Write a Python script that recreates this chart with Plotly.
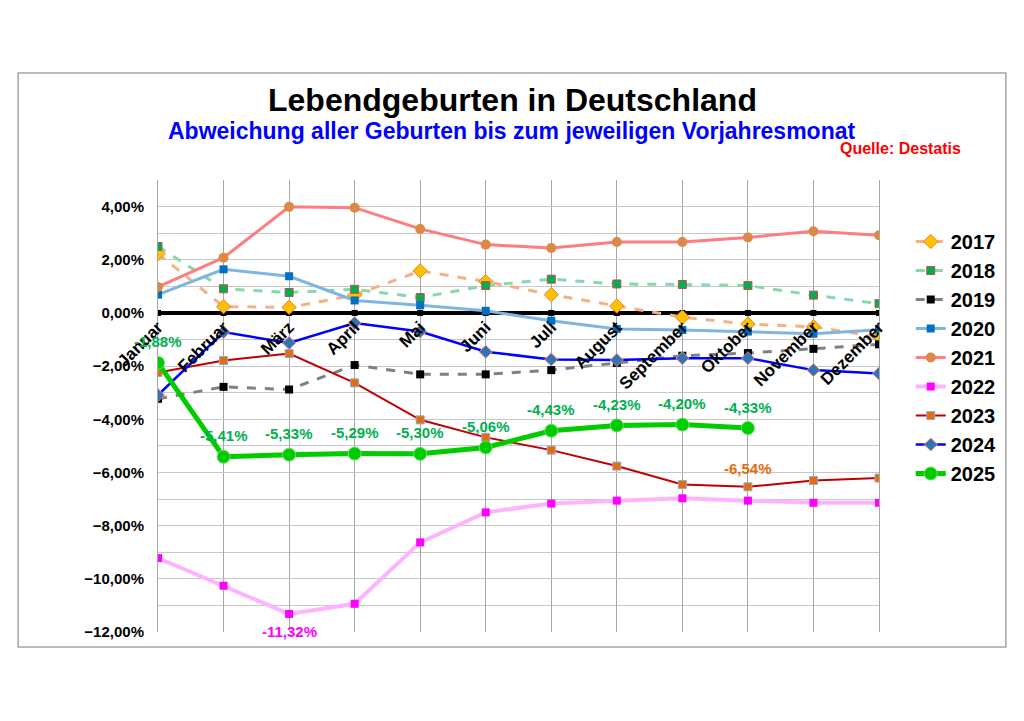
import plotly.graph_objects as go

FONT = "Liberation Sans, Arial, sans-serif"

months = ["Januar", "Februar", "März", "April", "Mai", "Juni", "Juli",
          "August", "September", "Oktober", "November", "Dezember"]

zero_line = [0.0] * 12
y2017 = [2.23, 0.24, 0.21, 0.67, 1.58, 1.18, 0.69, 0.26, -0.16, -0.42, -0.52, -0.91]
y2018 = [2.50, 0.91, 0.77, 0.89, 0.58, 1.03, 1.27, 1.09, 1.07, 1.03, 0.67, 0.35]
y2019 = [-3.23, -2.78, -2.88, -1.96, -2.31, -2.31, -2.15, -1.88, -1.61, -1.51, -1.35, -1.18]
y2020 = [0.69, 1.64, 1.38, 0.47, 0.29, 0.08, -0.29, -0.60, -0.64, -0.70, -0.78, -0.63]
y2021 = [0.98, 2.08, 3.99, 3.96, 3.16, 2.57, 2.44, 2.67, 2.67, 2.84, 3.07, 2.92]
y2022 = [-9.22, -10.26, -11.32, -10.94, -8.63, -7.50, -7.17, -7.06, -6.97, -7.06, -7.14, -7.14]
y2023 = [-2.24, -1.79, -1.53, -2.63, -4.02, -4.68, -5.16, -5.76, -6.45, -6.54, -6.30, -6.21]
y2024 = [-3.09, -0.72, -1.13, -0.38, -0.70, -1.46, -1.75, -1.77, -1.70, -1.70, -2.15, -2.28]
y2025 = [-1.88, -5.41, -5.33, -5.29, -5.30, -5.06, -4.43, -4.23, -4.20, -4.33]


def pct(v):
    return f"{v:.2f}%".replace(".", ",")


fig = go.Figure()

# schwarze Nulllinie
fig.add_trace(go.Scatter(x=months, y=zero_line, mode="lines+markers", showlegend=False,
                         line=dict(color="black", width=4),
                         marker=dict(symbol="square", size=6, color="black")))


def add_year(name, values, line, marker):
    fig.add_trace(go.Scatter(x=months[:len(values)], y=values, name=name, legendgroup=name,
                             mode="lines+markers", line=line, marker=marker))


add_year("2017", y2017, dict(color="#F4B183", width=3, dash="dash"),
         dict(symbol="diamond", size=11, color="#FFC000", line=dict(color="#ED7D31", width=1)))
add_year("2018", y2018, dict(color="#86D9A8", width=3, dash="dash"),
         dict(symbol="square", size=8, color="#00B050", line=dict(color="#C0504D", width=1)))
add_year("2019", y2019, dict(color="#808080", width=3, dash="dash"),
         dict(symbol="square", size=8, color="black"))
add_year("2020", y2020, dict(color="#7EB6E2", width=3),
         dict(symbol="square", size=8, color="#0070C0"))
add_year("2021", y2021, dict(color="#FF7C80", width=3),
         dict(symbol="circle", size=10, color="#DD8844"))
add_year("2022", y2022, dict(color="#FFB3FF", width=4),
         dict(symbol="square", size=8, color="#FF00FF"))
add_year("2023", y2023, dict(color="#C00000", width=2),
         dict(symbol="square", size=8, color="#E46C0A", line=dict(color="#8EA9DB", width=1)))
add_year("2024", y2024, dict(color="#0000FF", width=2.5),
         dict(symbol="diamond", size=10, color="#2E75B6", line=dict(color="#FF8080", width=1)))
add_year("2025", y2025, dict(color="#00CC00", width=5),
         dict(symbol="circle", size=13, color="#00CC00", line=dict(color="#66E066", width=1)))

annotations = []
for m, v in zip(months, y2025):
    annotations.append(dict(x=m, y=v, text=pct(v), showarrow=False, yshift=21,
                            font=dict(family=FONT, size=15, color="#00B050", weight="bold")))
annotations.append(dict(x=months[9], y=y2023[9], text=pct(y2023[9]), showarrow=False, yshift=18,
                        font=dict(family=FONT, size=15, color="#E46C0A", weight="bold")))
annotations.append(dict(x=months[2], y=y2022[2], text=pct(y2022[2]), showarrow=False, yshift=-18,
                        font=dict(family=FONT, size=15, color="#FF00FF", weight="bold")))

annotations += [
    dict(xref="paper", yref="paper", x=0.491, y=1.177, xanchor="center", yanchor="middle",
         text="Lebendgeburten in Deutschland",
         showarrow=False, font=dict(family=FONT, size=32, color="black", weight="bold")),
    dict(xref="paper", yref="paper", x=0.491, y=1.108, xanchor="center", yanchor="middle",
         text="Abweichung aller Geburten bis zum jeweiligen Vorjahresmonat",
         showarrow=False, font=dict(family=FONT, size=23, color="#0000FF", weight="bold")),
    dict(xref="paper", yref="paper", x=1.030, y=1.069, xanchor="center", yanchor="middle",
         text="Quelle: Destatis",
         showarrow=False, font=dict(family=FONT, size=16, color="#FF0000", weight="bold")),
]

fig.update_layout(
    width=1016, height=713,
    margin=dict(l=150, r=145, t=172, b=89),
    paper_bgcolor="white", plot_bgcolor="white",
    separators=",.",
    font=dict(family=FONT, color="black"),
    annotations=annotations,
    legend=dict(x=1.044, y=0.907, xanchor="left", yanchor="top", traceorder="grouped",
                tracegroupgap=0, itemwidth=30,
                font=dict(family=FONT, size=20, color="black", weight="bold")),
    shapes=[dict(type="rect", xref="paper", yref="paper", x0=-0.194, x1=1.176, y0=-0.033, y1=1.237,
                 line=dict(color="#A6A6A6", width=1.5), layer="below")],
)

fig.update_xaxes(range=[0, 11], anchor="free", position=12 / 17, tickangle=-45,
                 showgrid=True, gridcolor="#A6A6A6", gridwidth=1, zeroline=False,
                 showline=False, ticks="",
                 tickfont=dict(family=FONT, size=17, color="black", weight="bold"))
fig.update_yaxes(range=[-12, 5], dtick=2, tick0=0, tickformat=".2f", ticksuffix="%",
                 showgrid=True, gridcolor="#C8C8C8", zeroline=False,
                 minor=dict(dtick=1, showgrid=True, gridcolor="#C8C8C8"),
                 showline=True, linecolor="#A6A6A6", mirror=True, ticklabelstandoff=10,
                 tickfont=dict(family=FONT, size=15, color="black", weight="bold"))

fig.write_html("out.html")
